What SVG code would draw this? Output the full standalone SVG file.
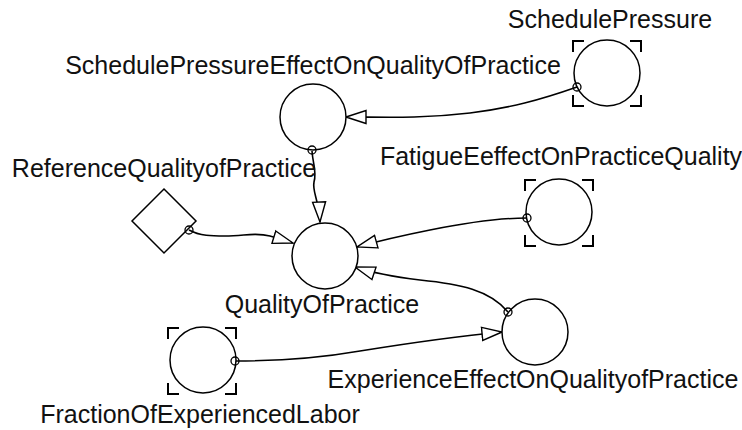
<svg xmlns="http://www.w3.org/2000/svg" width="742" height="430" viewBox="0 0 742 430">
  <style>
    .node { fill: #fff; stroke: #000; stroke-width: 1.5; }
    .bracket { fill: none; stroke: #000; stroke-width: 2; }
    .tap { fill: none; stroke: #000; stroke-width: 1.3; }
    .link { fill: none; stroke: #000; stroke-width: 1.6; marker-end: url(#arrow); }
    .label { font-family: "Liberation Sans", Arial, sans-serif; font-size: 25px; fill: #111; text-anchor: middle; }
  </style>
  <defs>
    <marker id="arrow" viewBox="0 0 22 16" refX="21" refY="8" markerWidth="22" markerHeight="16" markerUnits="userSpaceOnUse" orient="auto">
      <path d="M1,1.5 L21,8 L1,14.5 Z" fill="#fff" stroke="#000" stroke-width="1.4"/>
    </marker>
  </defs>
  <rect width="742" height="430" fill="#fff"/>

  <g id="connectors">
    <path class="link" d="M577,87 C540,100 510,108 470,113 C420,119 380,117 346,117"/>
    <path class="link" d="M312,151 C313,165 317,172 314,182 C312,192 319,200 320,222"/>
    <path class="link" d="M189,230 C200,236 212,236 225,236 C245,236 255,232 270,236 L293,243"/>
    <path class="link" d="M527,218 C505,218 470,222 430,230 C400,236 375,242 357,247"/>
    <path class="link" d="M508,312 C490,290 460,284 420,280 C395,277 370,272 355,267"/>
    <path class="link" d="M235,361 C280,361 320,358 360,351 C410,343 460,336 502,332"/>
  </g>

  <g id="SchedulePressure">
    <circle class="node" cx="607" cy="73" r="33"/>
    <path class="bracket" d="M573,52 V41 H584 M630,41 H641 V52 M641,95 V106 H630 M584,106 H573 V95"/>
    <circle class="tap" cx="577" cy="87" r="4"/>
    <text class="label" x="610" y="28">SchedulePressure</text>
  </g>

  <g id="SchedulePressureEffectOnQualityOfPractice">
    <circle class="node" cx="313" cy="117" r="33"/>
    <circle class="tap" cx="312" cy="150" r="4"/>
    <text class="label" x="313" y="74">SchedulePressureEffectOnQualityOfPractice</text>
  </g>

  <g id="ReferenceQualityofPractice">
    <path class="node" d="M164,189 L196,221 L164,253 L132,221 Z"/>
    <circle class="tap" cx="189" cy="230" r="4"/>
    <text class="label" x="164" y="177">ReferenceQualityofPractice</text>
  </g>

  <g id="QualityOfPractice">
    <circle class="node" cx="325" cy="256" r="33"/>
    <text class="label" x="322" y="313">QualityOfPractice</text>
  </g>

  <g id="FatigueEeffectOnPracticeQuality">
    <circle class="node" cx="559" cy="212" r="33"/>
    <path class="bracket" d="M525,191 V180 H536 M582,180 H593 V191 M593,235 V246 H582 M536,246 H525 V235"/>
    <circle class="tap" cx="527" cy="218" r="4"/>
    <text class="label" x="561" y="165">FatigueEeffectOnPracticeQuality</text>
  </g>

  <g id="ExperienceEffectOnQualityofPractice">
    <circle class="node" cx="535" cy="332" r="33"/>
    <circle class="tap" cx="508" cy="312" r="4"/>
    <text class="label" x="533" y="388">ExperienceEffectOnQualityofPractice</text>
  </g>

  <g id="FractionOfExperiencedLabor">
    <circle class="node" cx="203" cy="360" r="33"/>
    <path class="bracket" d="M168,339 V328 H179 M225,328 H236 V339 M236,383 V394 H225 M179,394 H168 V383"/>
    <circle class="tap" cx="235" cy="361" r="4"/>
    <text class="label" x="200" y="423">FractionOfExperiencedLabor</text>
  </g>
</svg>
